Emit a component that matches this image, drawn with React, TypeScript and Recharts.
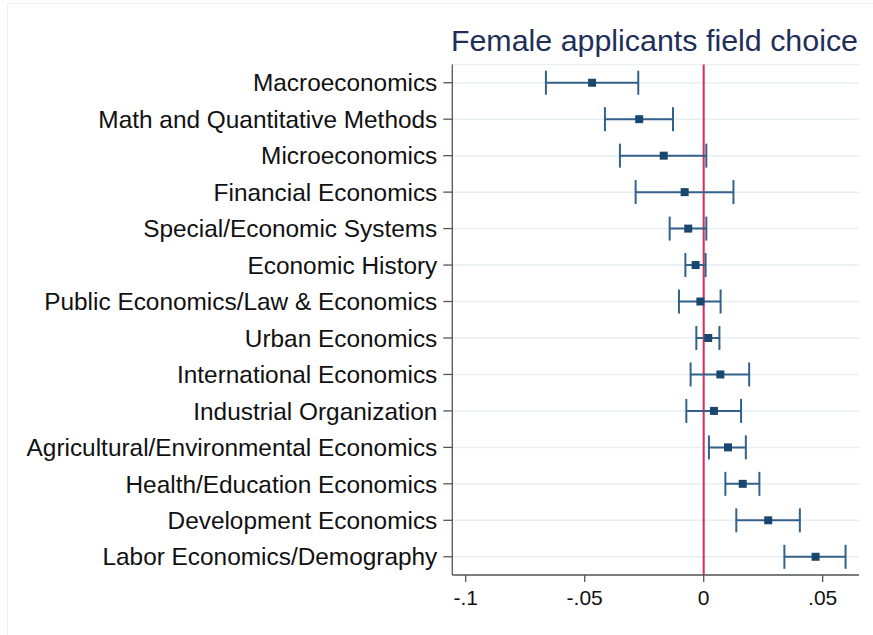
import React from "react";
import {
  ScatterChart,
  Scatter,
  XAxis,
  YAxis,
  ZAxis,
  CartesianGrid,
  ErrorBar,
  ReferenceLine,
} from "recharts";

const categories = [
  "Macroeconomics",
  "Math and Quantitative Methods",
  "Microeconomics",
  "Financial Economics",
  "Special/Economic Systems",
  "Economic History",
  "Public Economics/Law & Economics",
  "Urban Economics",
  "International Economics",
  "Industrial Organization",
  "Agricultural/Environmental Economics",
  "Health/Education Economics",
  "Development Economics",
  "Labor Economics/Demography",
];

const estimates = [
  -0.0469, -0.0271, -0.0168, -0.008, -0.0065, -0.0034, -0.0014, 0.0019, 0.007,
  0.0043, 0.0102, 0.0164, 0.0271, 0.047,
];

const ciLow = [
  -0.0663, -0.0415, -0.0352, -0.0286, -0.0143, -0.0077, -0.0104, -0.0031,
  -0.0055, -0.0073, 0.0022, 0.0091, 0.0137, 0.0339,
];

const ciHigh = [
  -0.0275, -0.0129, 0.0011, 0.0125, 0.0011, 0.0008, 0.0071, 0.0066, 0.0191,
  0.0157, 0.0177, 0.0234, 0.0404, 0.0596,
];

const xTicks = [-0.1, -0.05, 0, 0.05];
const xTickLabels = ["-.1", "-.05", "0", ".05"];

const data = categories.map((name, i) => ({
  idx: i,
  name,
  est: estimates[i],
  err: [estimates[i] - ciLow[i], ciHigh[i] - estimates[i]],
}));

const FONT = "'Liberation Sans', Arial, Helvetica, sans-serif";

export default function App() {
  return (
    <div
      style={{
        position: "absolute",
        left: 0,
        top: 0,
        width: 873,
        height: 635,
        background: "#ffffff",
        fontFamily: FONT,
      }}
    >
      <div
        style={{
          position: "absolute",
          left: 7,
          top: 3,
          width: 880,
          height: 640,
          border: "1.5px solid #edf1f4",
          boxSizing: "border-box",
        }}
      />
      <ScatterChart
        width={873}
        height={635}
        margin={{ top: 64.5, right: 14, bottom: 0, left: 0 }}
        style={{ position: "absolute", left: 0, top: 0 }}
      >
        <CartesianGrid
          horizontal={true}
          vertical={false}
          stroke="#e6eff2"
          strokeWidth={1.5}
        />
        <XAxis
          type="number"
          dataKey="est"
          domain={[-0.10563, 0.06525]}
          allowDataOverflow
          ticks={xTicks}
          tickFormatter={(v: number) => xTickLabels[xTicks.indexOf(v)] ?? String(v)}
          height={60}
          tickSize={7}
          tickMargin={8}
          stroke="#555555"
          strokeWidth={1.3}
          tick={{ fill: "#111111", fontSize: 21, fontFamily: FONT }}
          tickLine={{ stroke: "#555555", strokeWidth: 1.3 }}
        />
        <YAxis
          type="number"
          dataKey="idx"
          domain={[-0.5, 13.5]}
          reversed
          ticks={categories.map((_, i) => i)}
          tickFormatter={(v: number) => categories[v] ?? ""}
          interval={0}
          width={452.3}
          tickSize={9}
          tickMargin={6}
          stroke="#555555"
          strokeWidth={1.3}
          tick={{ fill: "#111111", fontSize: 24.4, fontFamily: FONT }}
          tickLine={{ stroke: "#555555", strokeWidth: 1.3 }}
        />
        <ZAxis range={[76, 76]} />
        <ReferenceLine x={0} stroke="#d92b55" strokeWidth={2} ifOverflow="extendDomain" />
        <Scatter
          data={data}
          fill="#1a476f"
          shape="square"
          isAnimationActive={false}
        >
          <ErrorBar
            dataKey="err"
            direction="x"
            width={12}
            stroke="#33618b"
            strokeWidth={2}
          />
        </Scatter>
      </ScatterChart>
      <svg
        width={873}
        height={635}
        style={{ position: "absolute", left: 0, top: 0, pointerEvents: "none" }}
      >
        <text
          x={858}
          y={51}
          textAnchor="end"
          fontSize={30.4}
          fontFamily={FONT}
          fill="#1f2f58"
        >
          Female applicants field choice
        </text>
      </svg>
    </div>
  );
}
